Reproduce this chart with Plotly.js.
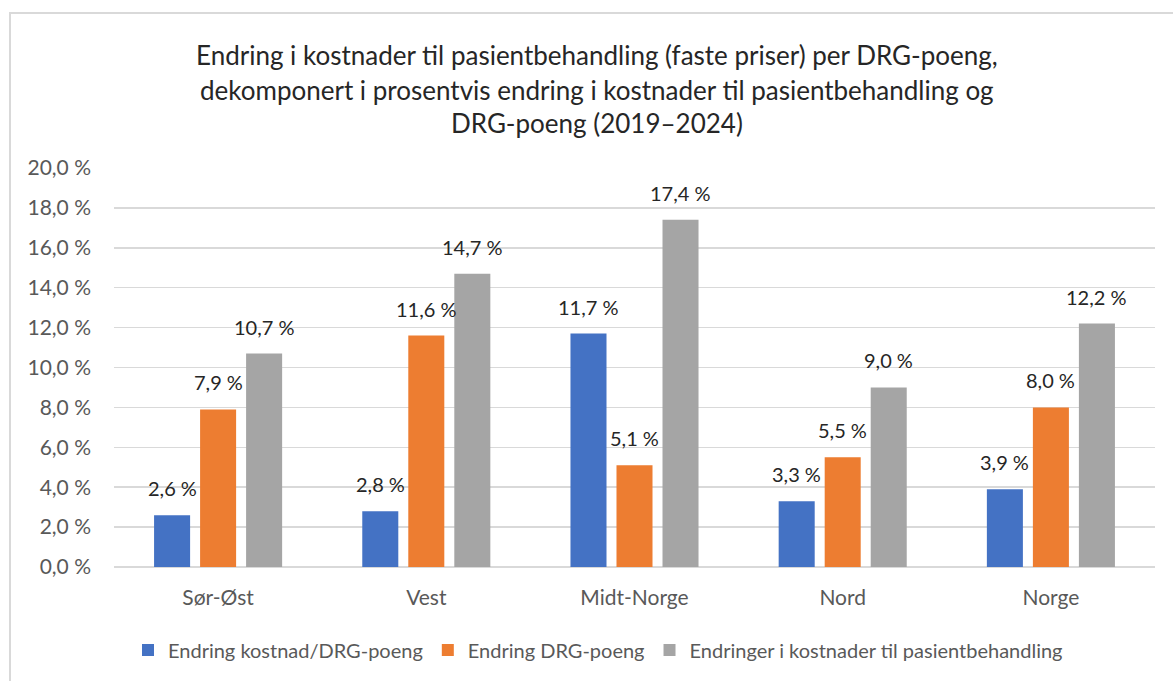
<!DOCTYPE html>
<html>
<head>
<meta charset="utf-8">
<script src="https://cdn.plot.ly/plotly-3.0.1.min.js"></script>
<style>
  html, body { margin: 0; padding: 0; background: #fff; overflow: hidden; }
  #chart { position: absolute; left: 0; top: 0; width: 1173px; height: 681px; }
  #frame { position: absolute; left: 9px; top: 12px; width: 1200px; height: 720px;
           border: 2px solid #d9d9d9; pointer-events: none; }
</style>
</head>
<body>
<div id="chart"></div>
<div id="frame"></div>
<script>
const categories = ['Sør-Øst', 'Vest', 'Midt-Norge', 'Nord', 'Norge'];
const seriesNames = ['Endring kostnad/DRG-poeng', 'Endring DRG-poeng', 'Endringer i kostnader til pasientbehandling'];
const kostnadPerDrg = [2.6, 2.8, 11.7, 3.3, 3.9];
const drgPoeng = [7.9, 11.6, 5.1, 5.5, 8.0];
const kostnader = [10.7, 14.7, 17.4, 9.0, 12.2];
const tickVals = [0, 2, 4, 6, 8, 10, 12, 14, 16, 18, 20];
const tickText = ['0,0 %', '2,0 %', '4,0 %', '6,0 %', '8,0 %', '10,0 %', '12,0 %', '14,0 %', '16,0 %', '18,0 %', '20,0 %'];
const titleLines = [
  'Endring i kostnader til pasientbehandling (faste priser) per DRG-poeng,',
  'dekomponert i prosentvis endring i kostnader til pasientbehandling og',
  'DRG-poeng (2019–2024)'
];
const colors = ['#4472C4', '#ED7D31', '#A5A5A5'];

const fmt = v => v.toFixed(1).replace('.', ',') + ' %';
const FONT = 'Lato, "Open Sans", sans-serif';
const allSeries = [kostnadPerDrg, drgPoeng, kostnader];

const data = allSeries.map((vals, i) => ({
  type: 'bar',
  name: seriesNames[i],
  x: categories,
  y: vals,
  marker: { color: colors[i] },
  hoverinfo: 'skip'
}));

const annotations = [];
const titleY = [55, 90, 123];
titleLines.forEach((t, i) => annotations.push({
  text: t,
  xref: 'paper', yref: 'paper',
  x: (597 - 114) / 1041,
  y: (567 - titleY[i]) / 399,
  xanchor: 'center', yanchor: 'middle',
  showarrow: false,
  font: { family: FONT, size: 26, color: '#262626' }
}));

// data labels above each bar
const slotShift = [-46, 0, 46];
allSeries.forEach((vals, i) => {
  vals.forEach((v, j) => annotations.push({
    text: fmt(v),
    x: categories[j], y: v,
    xref: 'x', yref: 'y',
    xshift: slotShift[i], yshift: 13,
    xanchor: 'center', yanchor: 'bottom',
    showarrow: false,
    font: { family: FONT, size: 20, color: '#262626' }
  }));
});

const layout = {
  width: 1173, height: 681,
  margin: { l: 114, r: 18, t: 168, b: 114 },
  paper_bgcolor: '#ffffff',
  plot_bgcolor: '#ffffff',
  barmode: 'group',
  bargap: 0.337,
  bargroupgap: 0.217,
  showlegend: true,
  legend: {
    orientation: 'h',
    x: (598 - 114) / 1041, xanchor: 'center',
    y: (567 - 650) / 399, yanchor: 'middle',
    font: { family: FONT, size: 20, color: '#595959' },
    traceorder: 'normal'
  },
  xaxis: {
    type: 'category',
    showgrid: false,
    showline: false,
    zeroline: false,
    ticks: '',
    tickfont: { family: FONT, size: 21, color: '#595959' },
    ticklabelstandoff: 16
  },
  yaxis: {
    range: [0, 20],
    tickvals: tickVals,
    ticktext: tickText,
    showgrid: true,
    gridcolor: '#d9d9d9',
    gridwidth: 1.5,
    zeroline: true,
    zerolinecolor: '#d9d9d9',
    zerolinewidth: 1.5,
    showline: false,
    ticks: '',
    ticklabelstandoff: 22,
    tickfont: { family: FONT, size: 21, color: '#595959' }
  },
  annotations: annotations
};

Plotly.newPlot('chart', data, layout, { displayModeBar: false, staticPlot: true });
</script>
</body>
</html>
